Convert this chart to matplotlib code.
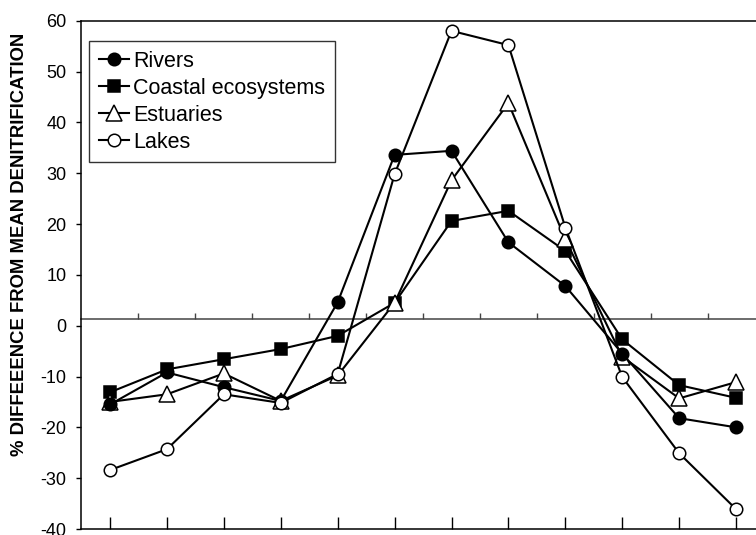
import matplotlib.pyplot as plt
import numpy as np

plt.rcParams['font.family'] = ['Liberation Sans', 'DejaVu Sans']
plt.rcParams['axes.unicode_minus'] = False

# 12 sampling periods, drawn at evenly spaced positions
periods = np.arange(12)

rivers = [-15.5, -9.2, -12.1, -14.8, 4.6, 33.6, 34.4, 16.4, 7.8, -5.5, -18.2, -20.0]
coastal = [-13.1, -8.6, -6.6, -4.6, -2.0, 4.5, 20.6, 22.6, 14.7, -2.7, -11.7, -14.2]
estuaries = [-15.0, -13.5, -9.4, -14.8, -9.8, 4.5, 28.6, 43.8, 17.0, -6.1, -14.3, -11.1]
lakes = [-28.4, -24.3, -13.5, -15.2, -9.5, 29.8, 58.0, 55.2, 19.3, -10.1, -25.1, -36.1]

yticks = [-40, -30, -20, -10, 0, 10, 20, 30, 40, 50, 60]
ylabel = "% DIFFEEENCE FROM MEAN DENITRIFICATION"
zero_line = 1.3  # the horizontal reference line sits slightly above the 0 tick

fig = plt.figure(figsize=(7.56, 5.35), dpi=100)
ax = fig.add_axes([81 / 756, 6 / 535, 1 - 81 / 756, 508.3 / 535])

lw = 1.5
mew = 1.1
ax.plot(periods, coastal, color='black', lw=lw, marker='s', ms=8,
        mfc='black', mec='black', mew=mew, label='Coastal ecosystems', zorder=3)
ax.plot(periods, estuaries, color='black', lw=lw, marker='^', ms=11,
        mfc='white', mec='black', mew=mew, label='Estuaries', zorder=4)
ax.plot(periods, rivers, color='black', lw=lw, marker='o', ms=9,
        mfc='black', mec='black', mew=mew, label='Rivers', zorder=5)
ax.plot(periods, lakes, color='black', lw=lw, marker='o', ms=9,
        mfc='white', mec='black', mew=mew, label='Lakes', zorder=6)

ax.set_xlim(-0.51, 11.35)
ax.set_ylim(-40, 60)
ax.set_yticks(yticks)
ax.set_xticks(periods)
ax.tick_params(axis='x', direction='in', length=8.5, width=1, labelbottom=False)
ax.tick_params(axis='y', direction='out', length=3.6, width=1, pad=7, labelsize=13)
ax.spines['right'].set_visible(False)
for s in ['left', 'top', 'bottom']:
    ax.spines[s].set_linewidth(1.1)

# horizontal line near zero with small ticks between periods
pos = (zero_line + 40) / 100
sec = ax.secondary_xaxis(pos)
sec.set_xticks(periods[:-1] + 0.5)
sec.tick_params(direction='in', length=4, width=1, color='#444444', labelbottom=False, labeltop=False)
for s in ['bottom', 'top']:
    sec.spines[s].set_color('#444444')
    sec.spines[s].set_linewidth(1.1)

fig.text(20 / 756, 1 - 244 / 535, ylabel, rotation=90, ha='center', va='center',
         fontsize=13.3, fontweight='bold')

handles, labels = ax.get_legend_handles_labels()
order = [2, 0, 1, 3]
leg = ax.legend([handles[i] for i in order], [labels[i] for i in order],
                loc='upper left', bbox_to_anchor=(89 / 756, 1 - 41 / 535),
                bbox_transform=fig.transFigure, borderaxespad=0,
                fontsize=15.5, handlelength=1.4, handletextpad=0.2,
                labelspacing=0.28, borderpad=0.45, fancybox=False,
                framealpha=1, edgecolor='#333333')
leg.get_frame().set_linewidth(1.0)

fig.savefig('out.png', dpi=100)
